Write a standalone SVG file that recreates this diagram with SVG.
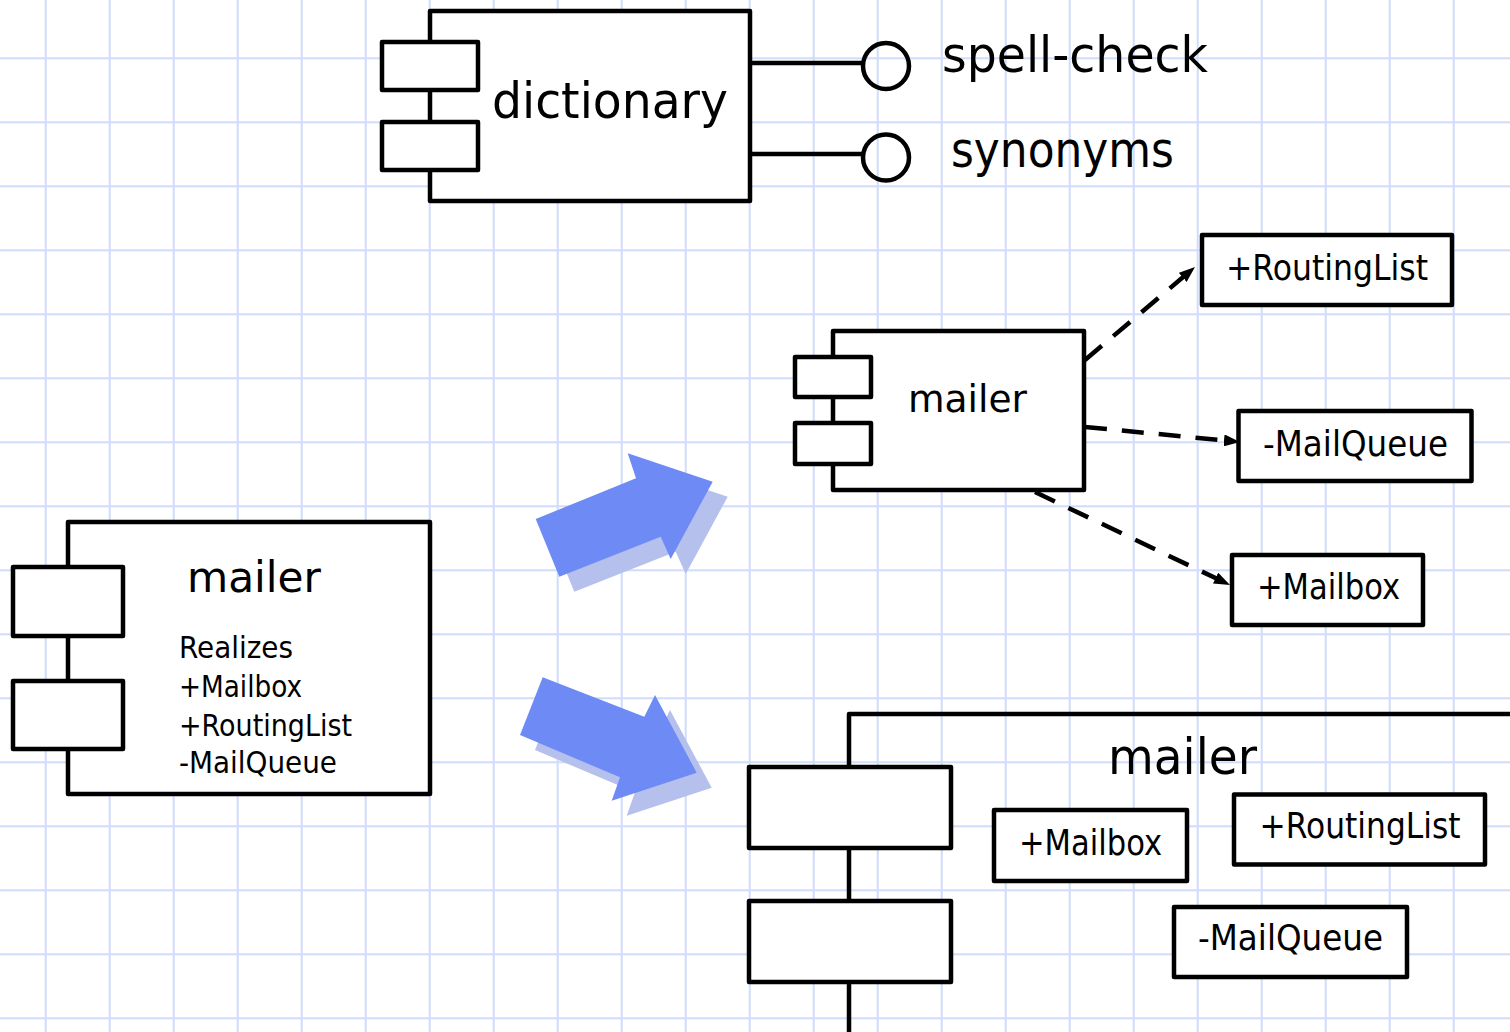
<svg xmlns="http://www.w3.org/2000/svg" width="1510" height="1032" viewBox="0 0 1510 1032">
  <defs>
    <pattern id="grid" patternUnits="userSpaceOnUse" x="13.7" y="26.3" width="64" height="64">
      <path d="M32 0V64M0 32H64" stroke="#d0dcfa" stroke-width="2" fill="none"/>
    </pattern>
    <marker id="head" markerUnits="userSpaceOnUse" viewBox="0 0 16 12" refX="4" refY="6" markerWidth="16" markerHeight="12" orient="auto">
      <polygon points="0,0 16,6 0,12" fill="#000"/>
    </marker>
    <style>
      .box { fill: #fff; stroke: #000; stroke-width: 4.5; stroke-linejoin: round; }
      .open { fill: none; stroke: #000; stroke-width: 4.5; stroke-linejoin: round; }
      .lollipop { fill: none; stroke: #000; stroke-width: 4.5; }
      .dep { fill: none; stroke: #000; stroke-width: 4.5; stroke-dasharray: 22 15; }
      .t { font-family: "DejaVu Sans", "Liberation Sans", sans-serif; fill: #000; }
      .big { font-size: 50px; }
      .mid { font-size: 42px; }
      .med { font-size: 37px; }
      .sm { font-size: 35px; }
      .xs { font-size: 30px; }
      .arrow { fill: #6e8bf5; }
      .shadow { fill: #b6c0ec; }
    </style>
  </defs>

  <!-- graph paper background -->
  <rect width="1510" height="1032" fill="#fff"/>
  <rect width="1510" height="1032" fill="url(#grid)"/>

  <!-- dictionary component with two provided interfaces -->
  <g id="dictionary">
    <rect class="box" x="430" y="11" width="320" height="190"/>
    <rect class="box" x="382" y="42" width="96" height="48"/>
    <rect class="box" x="382" y="122" width="96" height="48"/>
    <text class="t big" x="492" y="118" textLength="236" lengthAdjust="spacingAndGlyphs">dictionary</text>
  </g>
  <g id="spell-check">
    <line class="lollipop" x1="750" y1="63" x2="863" y2="63"/>
    <circle class="lollipop" cx="886" cy="66" r="23"/>
    <text class="t big" x="942" y="72" textLength="266" lengthAdjust="spacingAndGlyphs">spell-check</text>
  </g>
  <g id="synonyms">
    <line class="lollipop" x1="750" y1="154" x2="863" y2="154"/>
    <circle class="lollipop" cx="886" cy="157.5" r="23"/>
    <text class="t big" x="951" y="167" textLength="223" lengthAdjust="spacingAndGlyphs">synonyms</text>
  </g>

  <!-- mailer component listing realized interfaces -->
  <g id="mailer-realizes">
    <rect class="box" x="68" y="522" width="362" height="272"/>
    <rect class="box" x="13" y="567" width="110" height="69"/>
    <rect class="box" x="13" y="681" width="110" height="68"/>
    <text class="t mid" x="187" y="592" textLength="134" lengthAdjust="spacingAndGlyphs">mailer</text>
    <text class="t xs" x="179" y="658" textLength="114" lengthAdjust="spacingAndGlyphs">Realizes</text>
    <text class="t xs" x="179" y="697" textLength="123" lengthAdjust="spacingAndGlyphs">+Mailbox</text>
    <text class="t xs" x="179" y="736" textLength="173" lengthAdjust="spacingAndGlyphs">+RoutingList</text>
    <text class="t xs" x="179" y="773" textLength="158" lengthAdjust="spacingAndGlyphs">-MailQueue</text>
  </g>

  <!-- transformation arrows -->
  <g id="to-dependencies">
    <polygon class="shadow" transform="translate(15 15)" points="559.3,576.7 535.7,519 636,478.3 627.7,453.3 712.7,481.7 670.7,559 660.7,536.7"/>
    <polygon class="arrow" points="559.3,576.7 535.7,519 636,478.3 627.7,453.3 712.7,481.7 670.7,559 660.7,536.7"/>
  </g>
  <g id="to-nested">
    <polygon class="shadow" transform="translate(15 15)" points="542.7,677.3 520,735 620,777.3 611.7,800.7 696.7,772.7 655,695 644.3,716.7"/>
    <polygon class="arrow" points="542.7,677.3 520,735 620,777.3 611.7,800.7 696.7,772.7 655,695 644.3,716.7"/>
  </g>

  <!-- mailer component with dependency arrows to its interfaces -->
  <g id="mailer">
    <rect class="box" x="833" y="331" width="251" height="159"/>
    <rect class="box" x="795" y="357" width="76" height="40"/>
    <rect class="box" x="795" y="423" width="76" height="41"/>
    <text class="t med" x="908" y="412" textLength="119" lengthAdjust="spacingAndGlyphs">mailer</text>
  </g>
  <g id="routinglist">
    <rect class="box" x="1202" y="235" width="250" height="70"/>
    <text class="t sm" x="1226" y="280" textLength="202" lengthAdjust="spacingAndGlyphs">+RoutingList</text>
  </g>
  <g id="mailqueue">
    <rect class="box" x="1238.5" y="411" width="233" height="70"/>
    <text class="t sm" x="1263" y="456" textLength="185" lengthAdjust="spacingAndGlyphs">-MailQueue</text>
  </g>
  <g id="mailbox">
    <rect class="box" x="1232" y="555" width="191" height="70"/>
    <text class="t sm" x="1257" y="599" textLength="143" lengthAdjust="spacingAndGlyphs">+Mailbox</text>
  </g>

  <g id="connectors">
    <path class="dep" d="M1085 360L1185.8 274.8" marker-end="url(#head)"/>
    <path class="dep" d="M1085 427L1228 440.8" marker-end="url(#head)"/>
    <path class="dep" d="M1035 492L1219.2 579.8" marker-end="url(#head)"/>
  </g>

  <!-- mailer component containing its interfaces -->
  <g id="mailer-nested">
    <path class="open" d="M1512 714H849V1034"/>
    <rect class="box" x="749" y="767" width="202" height="81"/>
    <rect class="box" x="749" y="901" width="202" height="81"/>
    <text class="t big" x="1108" y="774" textLength="149" lengthAdjust="spacingAndGlyphs">mailer</text>
  </g>
  <g id="nested-mailbox">
    <rect class="box" x="994" y="810" width="193" height="71"/>
    <text class="t sm" x="1019" y="855" textLength="143" lengthAdjust="spacingAndGlyphs">+Mailbox</text>
  </g>
  <g id="nested-routinglist">
    <rect class="box" x="1234" y="794.5" width="251" height="70"/>
    <text class="t sm" x="1259.5" y="838" textLength="201" lengthAdjust="spacingAndGlyphs">+RoutingList</text>
  </g>
  <g id="nested-mailqueue">
    <rect class="box" x="1174" y="907" width="233" height="70"/>
    <text class="t sm" x="1198" y="950" textLength="185" lengthAdjust="spacingAndGlyphs">-MailQueue</text>
  </g>
</svg>
